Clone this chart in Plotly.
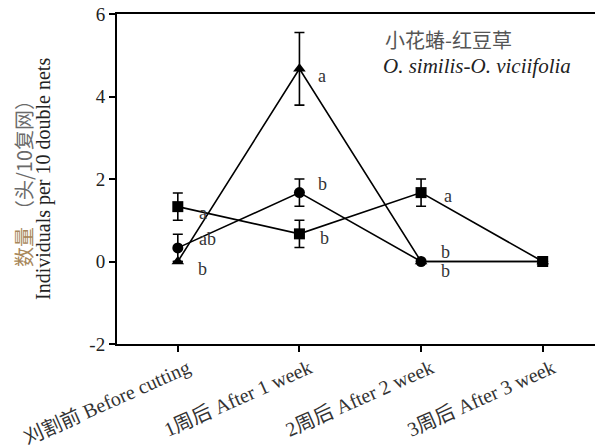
import plotly.graph_objects as go

categories = ["刈割前 Before cutting", "1周后 After 1 week", "2周后 After 2 week", "3周后 After 3 week"]
square_vals = [1.33, 0.67, 1.67, 0.0]
square_err = [0.33, 0.33, 0.33, 0.0]
circle_vals = [0.33, 1.67, 0.0, 0.0]
circle_err = [0.33, 0.33, 0.0, 0.0]
triangle_vals = [0.0, 4.67, 0.0, 0.0]
triangle_err = [0.0, 0.88, 0.0, 0.0]
y_tickvals = [-2, 0, 2, 4, 6]
y_ticktext = ["-2", "0", "2", "4", "6"]

# significance letters: (category index, y value, letter)
letter_pos = [0, 0, 0, 1, 1, 1, 2, 2, 2]
letter_y = [1.33, 0.33, 0.0, 4.67, 1.67, 0.67, 1.67, 0.0, 0.0]
letter_text = ["a", "ab", "b", "a", "b", "b", "a", "b", "b"]
letter_dx = [25, 30, 25, 23, 23, 25, 27, 24, 24]
letter_dy = [-6, 9, -7, -7, 9, -4, -3, 10, -9]

SERIF = "Liberation Serif"
CJK = "Noto Sans CJK SC"
xs = list(range(len(categories)))

fig = go.Figure()

def add_series(vals, errs, symbol):
    fig.add_trace(go.Scatter(
        x=xs, y=vals, mode="lines+markers",
        line=dict(color="black", width=1.6),
        marker=dict(symbol=symbol, size=11, color="black"),
        error_y=dict(type="data", array=errs, visible=True, color="black", thickness=1.6, width=5),
        showlegend=False,
    ))

add_series(square_vals, square_err, "square")
add_series(circle_vals, circle_err, "circle")
add_series(triangle_vals, triangle_err, "triangle-up")

for ci, yv, txt, dx, dy in zip(letter_pos, letter_y, letter_text, letter_dx, letter_dy):
    fig.add_annotation(x=ci, y=yv, text=txt, showarrow=False, xshift=dx, yshift=dy,
                       font=dict(family=SERIF, size=18, color="#333"))

L, T, B = 117, 14, 104
PW = 595 - L
PH = 448 - T - B

def px(x):
    return (x - L) / PW

def py(y):
    return (448 - B - y) / PH

fig.add_annotation(xref="paper", yref="paper", x=px(383), y=py(40),
                   text="小花蝽-红豆草", showarrow=False, xanchor="left", yanchor="middle",
                   font=dict(family=CJK, size=20, color="#555"))
fig.add_annotation(xref="paper", yref="paper", x=px(381), y=py(66),
                   text="<i>O. similis-O. viciifolia</i>", showarrow=False, xanchor="left", yanchor="middle",
                   font=dict(family=SERIF, size=21, color="#222"))

fig.add_annotation(xref="paper", yref="paper", x=px(23), y=py(247), textangle=-90,
                   text="数量", showarrow=False, xanchor="center", yanchor="middle",
                   font=dict(family=CJK, size=20, color="#a8875a"))
fig.add_annotation(xref="paper", yref="paper", x=px(23), y=py(155), textangle=-90,
                   text="（头/10复网）", showarrow=False, xanchor="center", yanchor="middle",
                   font=dict(family=CJK, size=20, color="#6a6a6a"))
fig.add_annotation(xref="paper", yref="paper", x=px(43), y=0.5, textangle=-90,
                   text="Individuals per 10 double nets", showarrow=False,
                   xanchor="center", yanchor="middle",
                   font=dict(family=SERIF, size=20, color="#222"))

fig.update_layout(
    width=595, height=448,
    margin=dict(l=L, r=0, t=T, b=B, autoexpand=False),
    plot_bgcolor="white", paper_bgcolor="white",
    xaxis=dict(
        range=[-0.5, 3.43], tickmode="array", tickvals=xs, ticktext=categories,
        tickangle=-24, showgrid=False, zeroline=False, automargin=False,
        ticklabelshift=10, ticklabelstandoff=-3,
        showline=True, linecolor="black", linewidth=2, mirror=True,
        ticks="outside", ticklen=6, tickwidth=2, tickcolor="black",
        tickfont=dict(family=SERIF + ", " + CJK, size=20, color="#333"),
    ),
    yaxis=dict(
        range=[-2, 6], tickmode="array", tickvals=y_tickvals, ticktext=y_ticktext,
        showgrid=False, zeroline=False, ticklabeloverflow="allow", automargin=False,
        showline=True, linecolor="black", linewidth=2,
        ticks="outside", ticklen=6, tickwidth=2, tickcolor="black",
        tickfont=dict(family=SERIF, size=19, color="#222"),
    ),
)

fig.write_html("out.html", config={"displayModeBar": False},
               post_script="document.body.style.margin='0';")
